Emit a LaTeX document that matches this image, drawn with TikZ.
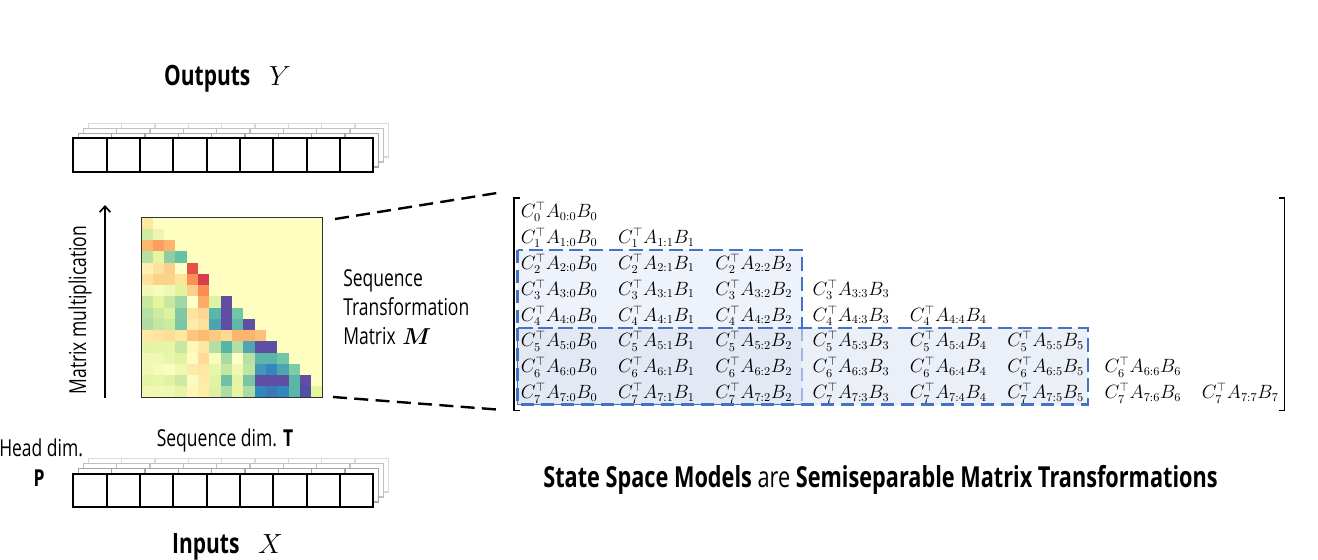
\documentclass[tikz,border=0pt]{standalone}
\usepackage{amsmath}
\usepackage{fontspec}
\setmainfont{Open Sans}[FakeStretch=0.75]
\usetikzlibrary{arrows.meta}
\definecolor{hmbg}{HTML}{FEFEC0}
\definecolor{boxA}{HTML}{EEF2FA}
\definecolor{boxB}{HTML}{E3E9F4}
\definecolor{boxC}{HTML}{EAEFF8}
\definecolor{bdash}{HTML}{4472C4}
\definecolor{blight}{HTML}{9EB6E2}
\definecolor{layA}{HTML}{A6A6A6}
\definecolor{layB}{HTML}{C0C0C0}
\definecolor{layC}{HTML}{DADADA}
\newcommand\drawstack[2]{%
  \foreach \k/\col in {3/layC,2/layB,1/layA}{%
    \foreach \i in {0,...,8}{%
      \draw[draw=\col, line width=1.1pt, fill=white] ({#1+5*\k+33.333*\i},{#2-5*\k}) rectangle ++(33.333,33.6);
    }%
  }%
  \foreach \i in {0,...,8}{%
    \draw[line width=1.6pt, fill=white] ({#1+33.333*\i},{#2}) rectangle ++(33.333,33.6);
  }%
}
\begin{document}
\begin{tikzpicture}[x=0.75pt,y=-0.75pt,
  lbl/.style={inner sep=0pt, font=\fontsize{17.5}{21}\selectfont},
  bigl/.style={inner sep=0pt, font=\fontsize{21}{25}\selectfont},
  ent/.style={inner sep=0pt, anchor=base west, font=\fontsize{13.5}{16}\selectfont},
  zoomline/.style={dash pattern=on 10.5pt off 5.5pt, line width=1.8pt},
  bluedash/.style={draw=bdash, dash pattern=on 10pt off 5pt, line width=1.6pt},
  brk/.style={line width=1pt}]
\useasboundingbox (0,0) rectangle (1318,560);

% stacks
\drawstack{73.3}{138.3}
\drawstack{73.3}{473.6}

% heatmap
\fill[hmbg] (141.5,217.5) rectangle (322.5,397.5);
\foreach \r/\lst in {
0/{FEE8A0},
1/{D0EBA0,EEF5B0},
2/{FDB870,FB9F5E,FDB46C},
3/{B8E0A0,E6F59A,8CCFA4,66C2A5},
4/{FEF0B0,FEE0A0,FDD08A,FFFFC8,E5504A},
5/{FEE19A,FDD487,FDD487,FEE49A,F99055,D53E4F},
6/{F0F8B8,F7FBC0,F0F8B5,E2F3A0,FDD08A,F98E52},
7/{C8E8A0,E6F59A,C8E8A0,9FD8A4,FFFFC8,FDAC66,E0F3A0,5E4FA2},
8/{B8E0A5,CCEAA0,DDF1A0,80C8A5,FEE3A0,FDD595,5AB6A8,5E4FA2,70C6A7},
9/{AEDCA4,C4E6A0,CCEAA0,7AC7A5,FEEDA8,FEE09A,4BA5B0,5E4FA2,60B8A8,5E4FA2},
10/{FEE8A4,FEE29E,FEDF9A,FEE7A0,FDC67E,FDBA72,FDCA80,FEDA90,FDB46C,FDB46C,FDC07A},
11/{E4F4A4,E6F5A4,E6F5A8,C8E8A0,FFF6B8,FEE6A4,B5DFA2,58B4A8,B5DFA2,52A5AE,5E4FA2,5E4FA2},
12/{F0F8B4,F0F8B6,E8F6AA,E0F3A0,FFFBC0,FEDC98,F7FBBE,A8DBA4,FEFEC8,B8E0A4,5AB6A8,5AB6A8,70C6A7},
13/{F0F8B4,F5FBBA,FAFDC0,EEF8B0,FEEAA8,FEE6A4,E8F6AA,C4E6A0,EEF8B0,C0E4A2,4596B8,3288BD,4EA4B0,7ECCA5},
14/{E6F5A4,E8F6A8,E0F3A0,CCEAA2,F8FCC0,FEEBA8,E2F3A4,6CC2A6,E4F4A4,76C6A6,5E4FA2,5E4FA2,5E4FA2,5AB6A8,5E4FA2},
15/{F0F8B4,F0F8B4,EEF8B0,E6F5A4,FFF6B8,FEEEA8,DDF1A0,ACDCA4,E6F5A4,ACDCA4,3288BD,3B78BA,3288BD,5AB6A8,5050A8,E6F59A}}{
  \foreach \hx [count=\c from 0] in \lst {
    \definecolor{cellc}{HTML}{\hx}
    \fill[cellc] ({141.5+11.3125*\c},{217.5+11.25*\r}) rectangle ++(11.3125,11.25);
  }
}
\node[draw=black!80, line width=1.3pt, minimum width=135.75pt, minimum height=135pt, inner sep=0pt] (hm) at (232,307.5) {};

% matrix multiplication arrow
\coordinate (arrB) at (105,398);
\coordinate (arrT) at (105,205);
\draw[-{Straight Barb[length=4.5pt,width=8pt]}, line width=1.2pt] (arrB) -- (arrT);
\node[lbl, rotate=90] (mm) at (80,310) {Matrix multiplication};

% labels
\node[bigl] (out) at (227.5,79) {\textbf{Outputs}\hspace{14pt}$Y$};
\node[bigl] (inp) at (227.5,547) {\textbf{Inputs}\hspace{14pt}$X$};
\node[lbl, anchor=base] (seqd) at (225,446.5) {Sequence dim. \textbf{T}};
\node[lbl, anchor=base west] (head) at (-1,456.5) {Head dim.};
\node[lbl, anchor=base] (pp) at (39,486.5) {\textbf{P}};
\node[lbl, anchor=base west] (st1) at (343,286.5) {Sequence};
\node[lbl, anchor=base west] (st2) at (343,315) {Transformation};
\node[lbl, anchor=base west] (st3) at (343,344) {Matrix\hspace{5pt}$\boldsymbol{M}$};

% blue regions
\fill[boxA] (517.5,250) rectangle (802,328);
\fill[boxC] (802,328) rectangle (1088,404.5);
\fill[boxB] (517.5,328) rectangle (802,404.5);
\draw[draw=bdash, line width=1.1pt] (517.5,328) -- (517.5,404.5) -- (802,404.5);
\draw[draw=blight, dash pattern=on 10pt off 5pt, line width=1.5pt] (802,328) -- (802,404.5);
\draw[bluedash] (517.5,250) rectangle (802,328);
\draw[bluedash] (517.5,328) rectangle (1088,404.5);

% matrix entries
\foreach \i in {0,...,7}{
  \foreach \j in {0,...,\i}{
    \node[ent] (e\i\j) at ({520.5+97.3*\j},{217.2+25.95*\i}) {$C_{\i}^{\top}A_{\i:\j}B_{\j}$};
  }
}

% brackets
\draw[brk] (519.5,198) -- (514,198) -- (514,410.5) -- (519.5,410.5);
\draw[brk] (1279,198) -- (1284.5,198) -- (1284.5,410.5) -- (1279,410.5);
\coordinate (mTL) at (497,193);
\coordinate (mBL) at (497,409.5);
\coordinate (hTR) at (335,219);
\coordinate (hBR) at (333,397);
\draw[zoomline] (hTR) -- (mTL);
\draw[zoomline] (hBR) -- (mBL);

% title
\node[inner sep=0pt, font=\fontsize{21.7}{26}\selectfont] (title) at (880.5,480) {\textbf{State Space Models} are \textbf{Semiseparable Matrix Transformations}};
\end{tikzpicture}
\end{document}
